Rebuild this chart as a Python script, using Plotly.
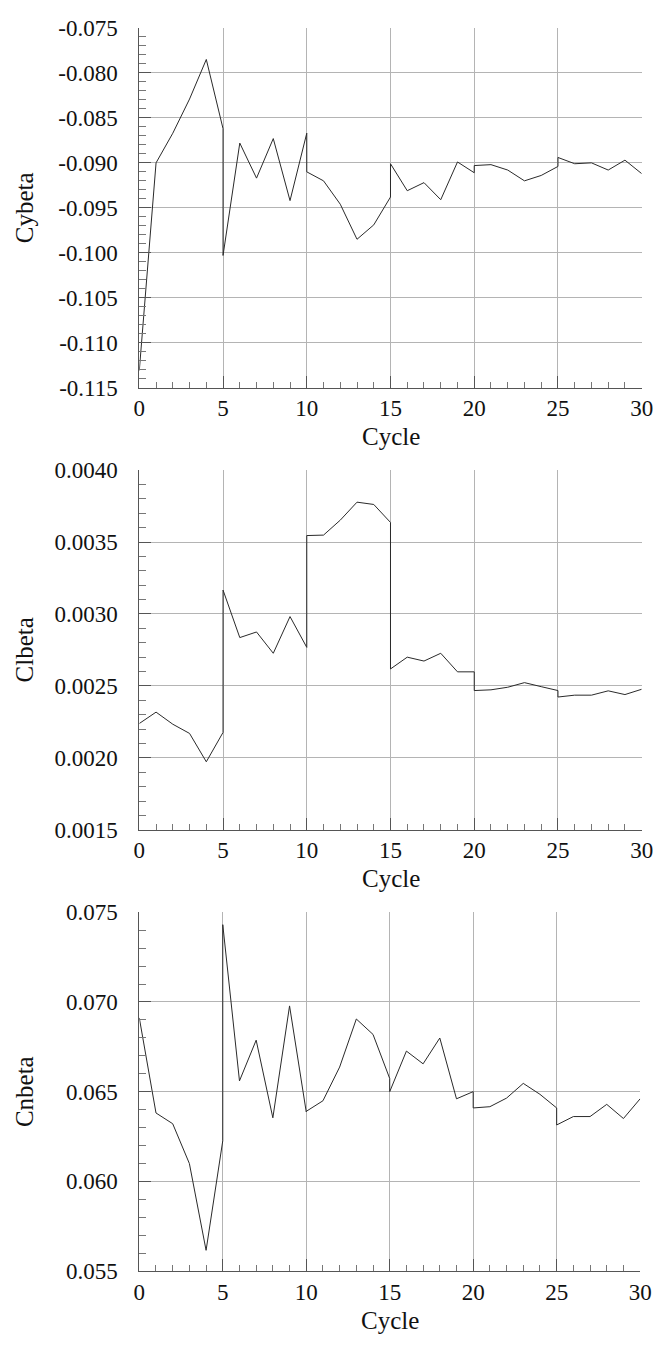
import plotly.graph_objects as go

# Cycle index; each 5-cycle block restarts, so block boundaries appear twice
cycle = [0, 1, 2, 3, 4, 5,
         5, 6, 7, 8, 9, 10,
         10, 11, 12, 13, 14, 15,
         15, 16, 17, 18, 19, 20,
         20, 21, 22, 23, 24, 25,
         25, 26, 27, 28, 29, 30]

cybeta = [-0.1131, -0.0900, -0.0867, -0.0829, -0.0785, -0.0862,
          -0.1003, -0.0878, -0.0917, -0.0873, -0.0942, -0.0867,
          -0.0910, -0.0920, -0.0946, -0.0985, -0.0969, -0.0938,
          -0.0901, -0.0931, -0.0922, -0.0941, -0.0899, -0.0911,
          -0.0903, -0.0902, -0.0908, -0.0920, -0.0914, -0.0904,
          -0.0894, -0.0901, -0.0900, -0.0908, -0.0897, -0.0912]

clbeta = [0.002239, 0.002318, 0.002234, 0.002170, 0.001973, 0.002177,
          0.003166, 0.002836, 0.002875, 0.002727, 0.002982, 0.002768,
          0.003545, 0.003548, 0.003652, 0.003777, 0.003761, 0.003636,
          0.002618, 0.002700, 0.002673, 0.002727, 0.002598, 0.002598,
          0.002468, 0.002473, 0.002491, 0.002523, 0.002495, 0.002468,
          0.002423, 0.002436, 0.002436, 0.002466, 0.002440, 0.002477]

cnbeta = [0.06911, 0.06381, 0.06321, 0.06099, 0.05615, 0.06226,
          0.07431, 0.06560, 0.06787, 0.06354, 0.06978, 0.06387,
          0.06390, 0.06449, 0.06637, 0.06905, 0.06819, 0.06573,
          0.06500, 0.06726, 0.06655, 0.06799, 0.06460, 0.06500,
          0.06409, 0.06416, 0.06464, 0.06546, 0.06485, 0.06409,
          0.06314, 0.06361, 0.06361, 0.06429, 0.06350, 0.06460]

x_ticks = [0, 5, 10, 15, 20, 25, 30]

cy_ticks = [-0.115, -0.110, -0.105, -0.100, -0.095, -0.090, -0.085, -0.080, -0.075]
cy_labels = ["-0.115", "-0.110", "-0.105", "-0.100", "-0.095", "-0.090", "-0.085", "-0.080", "-0.075"]

cl_ticks = [0.0015, 0.0020, 0.0025, 0.0030, 0.0035, 0.0040]
cl_labels = ["0.0015", "0.0020", "0.0025", "0.0030", "0.0035", "0.0040"]

cn_ticks = [0.055, 0.060, 0.065, 0.070, 0.075]
cn_labels = ["0.055", "0.060", "0.065", "0.070", "0.075"]

W, H = 668, 1350
FONT = "Liberation Serif, Times New Roman, serif"

panels = [
    # (values, name, ticks, labels, minor step, top px, bottom px, right px)
    (cybeta, "Cybeta", cy_ticks, cy_labels, 0.001, 16.3, 382.7, 653.3),
    (clbeta, "Clbeta", cl_ticks, cl_labels, 0.0001, 466.7, 833.3, 653.3),
    (cnbeta, "Cnbeta", cn_ticks, cn_labels, 0.001, 917.3, 1282.7, 651.7),
]
LEFT = 137.0

fig = go.Figure()
annotations = []

for i, (vals, name, yt, yl, ystep, top, bot, right) in enumerate(panels, start=1):
    xa = "x" if i == 1 else f"x{i}"
    ya = "y" if i == 1 else f"y{i}"
    fig.add_trace(go.Scatter(
        x=cycle, y=vals, mode="lines",
        line=dict(color="#2a2a2a", width=1),
        xaxis=xa, yaxis=ya, showlegend=False,
    ))
    common = dict(
        showline=True, linecolor="#555555", linewidth=1,
        ticks="inside", tickcolor="#555555", ticklen=12, tickwidth=1,
        showgrid=True, gridcolor="#b4b4b4", gridwidth=1,
        zeroline=False,
        tickfont=dict(family=FONT, size=23, color="#111111"),
    )
    xkey = "xaxis" if i == 1 else f"xaxis{i}"
    ykey = "yaxis" if i == 1 else f"yaxis{i}"
    fig.update_layout(**{
        xkey: dict(
            domain=[LEFT / W, right / W], anchor=ya,
            range=[0, 30], tickvals=x_ticks,
            ticktext=[str(v) for v in x_ticks],
            minor=dict(dtick=1, tick0=0, ticks="inside", ticklen=6,
                       tickcolor="#777777", showgrid=False),
            ticklabelstandoff=0,
            **common,
        ),
        ykey: dict(
            domain=[1 - bot / H, 1 - top / H], anchor=xa,
            range=[yt[0], yt[-1]], tickvals=yt, ticktext=yl,
            minor=dict(dtick=ystep, tick0=yt[0], ticks="inside", ticklen=7,
                       tickcolor="#777777", showgrid=False),
            ticklabelstandoff=16,
            **common,
        ),
    })
    annotations.append(dict(
        text="Cycle", xref="paper", yref="paper",
        x=(LEFT + right) / 2 / W, y=1 - (bot + 50) / H,
        xanchor="center", yanchor="middle", showarrow=False,
        font=dict(family=FONT, size=25, color="#111111"),
    ))
    annotations.append(dict(
        text=name, xref="paper", yref="paper",
        x=19 / W, y=1 - (top + bot) / 2 / H, textangle=-90,
        xanchor="center", yanchor="middle", showarrow=False,
        font=dict(family=FONT, size=25, color="#111111"),
    ))

fig.update_layout(
    width=W, height=H,
    margin=dict(l=0, r=0, t=0, b=0),
    font=dict(family=FONT, size=23, color="#111111"),
    paper_bgcolor="white", plot_bgcolor="white",
    annotations=annotations,
)

fig.write_html("out.html")
